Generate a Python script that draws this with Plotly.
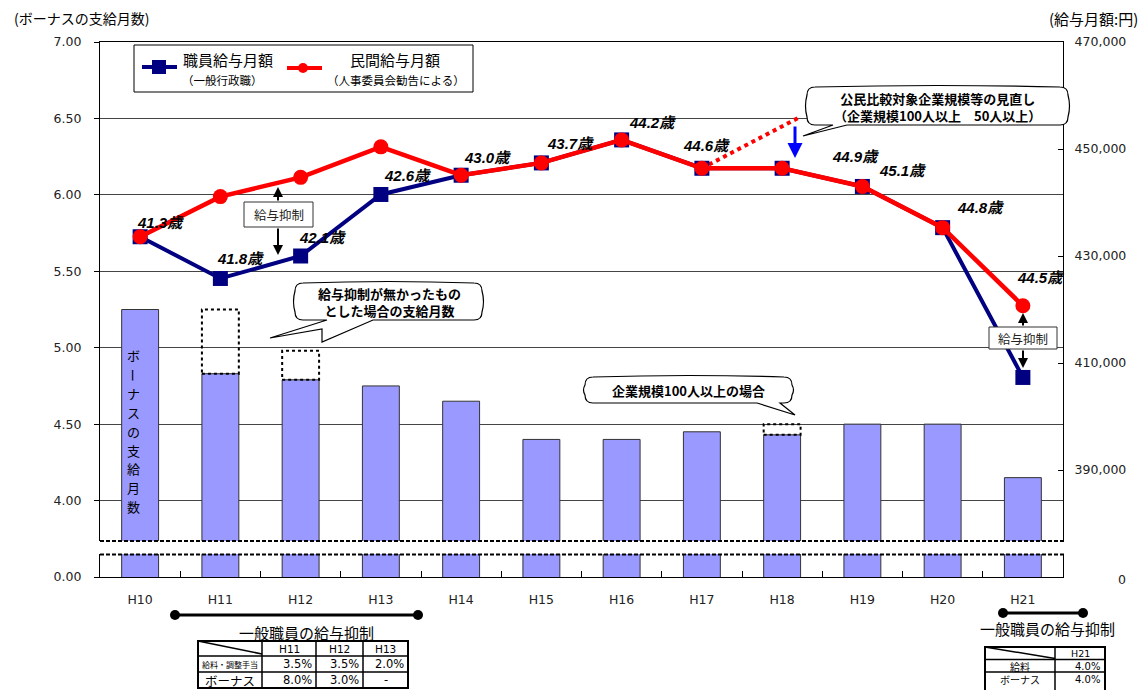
import plotly.graph_objects as go

# ---- data -------------------------------------------------------------
categories = ["H10", "H11", "H12", "H13", "H14", "H15", "H16", "H17", "H18", "H19", "H20", "H21"]
bonus_months = [5.25, 4.83, 4.79, 4.75, 4.65, 4.40, 4.40, 4.45, 4.43, 4.50, 4.50, 4.15]
# bonus months had there been no pay restraint / with the 100+ employee comparison
hypo_categories = ["H11", "H12", "H18"]
hypo_months = [5.25, 4.98, 4.50]
staff_salary = [433600, 425800, 430000, 441500, 445100, 447400, 451700, 446400, 446400, 443000, 435300, 407300]
private_salary = [433600, 441100, 444700, 450400, 445100, 447400, 451700, 446400, 446400, 443000, 435300, 420700]
ages = ["41.3", "41.8", "42.1", "42.6", "43.0", "43.7", "44.2", "44.6", "44.9", "45.1", "44.8", "44.5"]
# private salary under the former comparison basis (100+ employees)
prior_basis_x = [7, 8.2]
prior_basis_salary = [446400, 455800]

left_ticks = [3.5, 4.0, 4.5, 5.0, 5.5, 6.0, 6.5, 7.0]
left_ticktext = ["0.00", "4.00", "4.50", "5.00", "5.50", "6.00", "6.50", "7.00"]
right_ticks = [370000, 390000, 410000, 430000, 450000, 470000]
right_ticktext = ["", "390,000", "410,000", "430,000", "450,000", "470,000"]

restraint_years = ["H11", "H12", "H13"]
restraint_salary = ["3.5%", "3.5%", "2.0%"]
restraint_bonus = ["8.0%", "3.0%", "-"]
restraint21_salary = "4.0%"
restraint21_bonus = "4.0%"

# ---- geometry helpers (pixel -> paper) --------------------------------
W, H = 1146, 690
L, R, T, B = 100, 1063, 42, 577


def px(x):
    return (x - L) / (R - L)


def py(y):
    return (B - y) / (B - T)


JP = "Noto Sans CJK JP"
NUM = "DejaVu Sans"
idx = list(range(len(categories)))

fig = go.Figure()

fig.add_bar(x=idx, y=bonus_months, width=0.46, yaxis="y",
            marker=dict(color="#9999FF", line=dict(color="#333333", width=1)))
fig.add_scatter(x=prior_basis_x, y=prior_basis_salary, yaxis="y2", mode="lines",
                line=dict(color="#FF0000", width=4, dash="dot"))
fig.add_scatter(x=idx, y=staff_salary, yaxis="y2", mode="lines+markers",
                line=dict(color="#000080", width=4),
                marker=dict(symbol="square", size=15, color="#000080"))
fig.add_scatter(x=idx, y=private_salary, yaxis="y2", mode="lines+markers",
                line=dict(color="#FF0000", width=4.5),
                marker=dict(symbol="circle", size=15, color="#FF0000"))

shapes = []
annotations = []


def text(x, y, s, size=13, family=JP, color="black", xanchor="center", angle=0, **kw):
    annotations.append(dict(xref="paper", yref="paper", x=px(x), y=py(y), text=s,
                            showarrow=False, xanchor=xanchor, yanchor="middle",
                            textangle=angle,
                            font=dict(family=family, size=size, color=color, **kw)))


def line(x0, y0, x1, y1, color="black", width=1, dash="solid"):
    shapes.append(dict(type="line", xref="paper", yref="paper", layer="above",
                       x0=px(x0), y0=py(y0), x1=px(x1), y1=py(y1),
                       line=dict(color=color, width=width, dash=dash)))


def rect(x0, y0, x1, y1, color="black", width=1, fill="white", dash="solid"):
    shapes.append(dict(type="rect", xref="paper", yref="paper", layer="above",
                       x0=px(x0), y0=py(y0), x1=px(x1), y1=py(y1), fillcolor=fill,
                       line=dict(color=color, width=width, dash=dash)))


def dot(x, y, r, color="black"):
    shapes.append(dict(type="circle", xref="paper", yref="paper", layer="above",
                       x0=px(x - r), y0=py(y - r), x1=px(x + r), y1=py(y + r),
                       fillcolor=color, line=dict(color=color, width=0)))


def arrow(hx, hy, tx, ty, color="black", width=2):
    annotations.append(dict(xref="paper", yref="paper", x=px(hx), y=py(hy), text="",
                            showarrow=True, ax=tx - hx, ay=ty - hy, arrowhead=2,
                            arrowsize=1, arrowwidth=width, arrowcolor=color))


def P(x, y):
    return f"{px(x):.5f},{py(y):.5f}"


def callout(x0, y0, x1, y1, tail, r=8, bulge=3):
    mx, my = (x0 + x1) / 2, (y0 + y1) / 2
    d = f"M {P(x0 + r, y0)} Q {P(mx, y0 - bulge)} {P(x1 - r, y0)} "
    d += f"Q {P(x1, y0)} {P(x1, y0 + r)} Q {P(x1 + bulge, my)} {P(x1, y1 - r)} "
    d += f"Q {P(x1, y1)} {P(x1 - r, y1)} "
    for (tx, ty) in tail:
        d += f"L {P(tx, ty)} "
    d += f"L {P(x0 + r, y1)} Q {P(x0, y1)} {P(x0, y1 - r)} "
    d += f"Q {P(x0 - bulge, my)} {P(x0, y0 + r)} Q {P(x0, y0)} {P(x0 + r, y0)} Z"
    shapes.append(dict(type="path", xref="paper", yref="paper", layer="above", path=d,
                       fillcolor="white", line=dict(color="black", width=1.2)))


# dotted boxes: bonus months without restraint
for cat, hv in zip(hypo_categories, hypo_months):
    i = categories.index(cat)
    shapes.append(dict(type="rect", xref="x", yref="y", layer="above",
                       x0=i - 0.23, x1=i + 0.23, y0=bonus_months[i], y1=hv,
                       fillcolor="rgba(255,255,255,0)",
                       line=dict(color="black", width=2, dash="dot")))

# broken-axis band
rect(94, 541, 1069, 554, color="white", width=0, fill="white")
line(100, 541, 1066, 541, width=2, dash="4px,2px")
line(100, 554.5, 1066, 554.5, width=2, dash="4px,2px")
text(1128, 579, "0", size=12.5, family=NUM, xanchor="right", color="#222222")

# axis titles
text(12, 18, "(ボーナスの支給月数)", size=14, xanchor="left")
text(1140, 19, "(給与月額:円)", size=15, xanchor="right")

# legend
rect(134, 45, 473, 92, width=1)
line(142, 67, 177, 67, color="#000080", width=4)
rect(152, 60, 166, 74, color="#000080", width=0, fill="#000080")
line(287, 68, 322, 68, color="#FF0000", width=4)
dot(303, 68, 5, color="#FF0000")
text(228, 60, "職員給与月額", size=15)
text(222, 80, "（一般行政職）", size=11.5)
text(395, 60, "民間給与月額", size=15)
text(396, 80, "（人事委員会勧告による）", size=11.5)

# vertical caption inside first bar ("ー" turned for vertical writing)
caption = "ボーナスの支給月数"
for k, ch in enumerate(caption):
    text(133, 356 + k * 18.8, ch, size=13, angle=90 if ch == "ー" else 0)

# age labels
age_pos = [(160, 222), (240, 258), (322, 238), (407, 175), (487, 157), (570, 143),
           (652, 122), (706, 145), (855, 156), (902, 170), (980, 208), (1040, 277)]
for a, (ax_, ay_) in zip(ages, age_pos):
    text(ax_, ay_, a + "歳", size=15, family="Liberation Sans, " + JP,
         weight="bold", style="italic")

# pay restraint markers
rect(244, 202, 313, 227, color="#333333", width=1)
text(278.5, 214.5, "給与抑制", size=12.5, color="#222222")
arrow(278, 187, 278, 202)
arrow(278, 255, 278, 227)
rect(989, 327, 1057, 349, color="#333333", width=1)
text(1023, 338, "給与抑制", size=12.5, color="#222222")
arrow(1023, 313, 1023, 327)
arrow(1023, 368, 1023, 349)

# comparison basis change arrow
arrow(795, 158, 795, 125, color="#0000FF", width=3)

# callouts
callout(295, 283, 482, 320, [(373, 320), (322, 342), (322, 329), (270, 338), (327, 320)])
text(389, 302, "<b>給与抑制が無かったもの<br>とした場合の支給月数</b>", size=13)
callout(585, 377, 792, 403, [(780, 403), (795, 415), (757, 403)])
text(688, 390.5, "<b>企業規模100人以上の場合</b>", size=13)
callout(807, 87, 1068, 125, [(847, 125), (803, 136), (833, 125)])
text(937, 106.5, "<b>公民比較対象企業規模等の見直し<br>（企業規模100人以上　50人以上）</b>", size=13)

# pay restraint H11-H13
line(175, 615, 418, 615, width=3)
dot(175, 615, 5)
dot(418, 615, 5)
text(306, 632, "一般職員の給与抑制", size=15)
tx = [198, 262, 316, 363, 408]
ty = [641, 656, 672, 688]
rect(tx[0], ty[0], tx[-1], ty[-1], width=2, fill="rgba(0,0,0,0)")
for xv in tx[1:-1]:
    line(xv, ty[0], xv, ty[-1], width=1.5)
for yv in ty[1:-1]:
    line(tx[0], yv, tx[-1], yv, width=1.5)
line(tx[0], ty[0], tx[1], ty[1] - 2, width=1.5)
for k, yr in enumerate(restraint_years):
    text((tx[k + 1] + tx[k + 2]) / 2, 649, yr, size=10.5, family=NUM)
    text(tx[k + 2] - 2, 664, restraint_salary[k], size=11.5, family=NUM, xanchor="right")
    if restraint_bonus[k] == "-":
        text((tx[k + 1] + tx[k + 2]) / 2, 680, "-", size=11.5, family=NUM)
    else:
        text(tx[k + 2] - 2, 680, restraint_bonus[k], size=11.5, family=NUM, xanchor="right")
text(230, 664, "給料・調整手当", size=8)
text(230, 680, "ボーナス", size=12.5)

# pay restraint H21
line(1003, 613, 1083, 613, width=3)
dot(1003, 613, 5)
dot(1083, 613, 5)
text(1047, 628, "一般職員の給与抑制", size=15)
rx = [985, 1055, 1105]
ry = [647, 659.5, 672, 692]
rect(rx[0], ry[0], rx[-1], ry[-1], width=2, fill="rgba(0,0,0,0)")
line(rx[1], ry[0], rx[1], ry[-1], width=1.5)
for yv in ry[1:-1]:
    line(rx[0], yv, rx[-1], yv, width=1.5)
line(rx[0], ry[0], rx[1], ry[1] - 1, width=1.5)
text(1080, 653, "H21", size=9.5, family=NUM)
text(1020, 666, "給料", size=10)
text(1102, 666, restraint21_salary, size=10, family=NUM, xanchor="right")
text(1020, 679, "ボーナス", size=10)
text(1102, 679, restraint21_bonus, size=10, family=NUM, xanchor="right")

fig.update_layout(
    width=W, height=H, autosize=False,
    margin=dict(l=L, r=W - R, t=T, b=H - B, pad=0),
    paper_bgcolor="white", plot_bgcolor="white",
    showlegend=False, bargap=0.5,
    font=dict(family=NUM, size=12.5, color="black"),
    xaxis=dict(range=[-0.5, 11.5], tickmode="array", tickvals=idx, ticktext=categories,
               showgrid=False, zeroline=False, showline=True, mirror=True,
               linecolor="black", linewidth=1.2, ticks="", ticklabelstandoff=11,
               tickfont=dict(family=NUM, size=12.5, color="#222222"),
               minor=dict(tickmode="array", tickvals=[i + 0.5 for i in range(11)],
                          ticks="inside", ticklen=6, tickcolor="black", showgrid=False)),
    yaxis=dict(range=[3.5, 7.0], tickmode="array", tickvals=left_ticks, ticktext=left_ticktext,
               showgrid=True, gridcolor="#444444", gridwidth=1, zeroline=False,
               showline=True, linecolor="black", linewidth=1.2,
               ticks="outside", ticklen=5, tickcolor="black", ticklabelstandoff=10,
               tickfont=dict(family=NUM, size=12.5, color="#222222")),
    yaxis2=dict(range=[370000, 470000], overlaying="y", side="right", tickmode="array",
                tickvals=right_ticks, ticktext=right_ticktext, showgrid=False, zeroline=False,
                showline=True, linecolor="black", linewidth=1.2,
                ticks="inside", ticklen=5, tickcolor="black", ticklabelstandoff=8,
                tickfont=dict(family=NUM, size=12.5, color="#222222")),
    shapes=shapes, annotations=annotations,
)

fig.write_html("out.html")
